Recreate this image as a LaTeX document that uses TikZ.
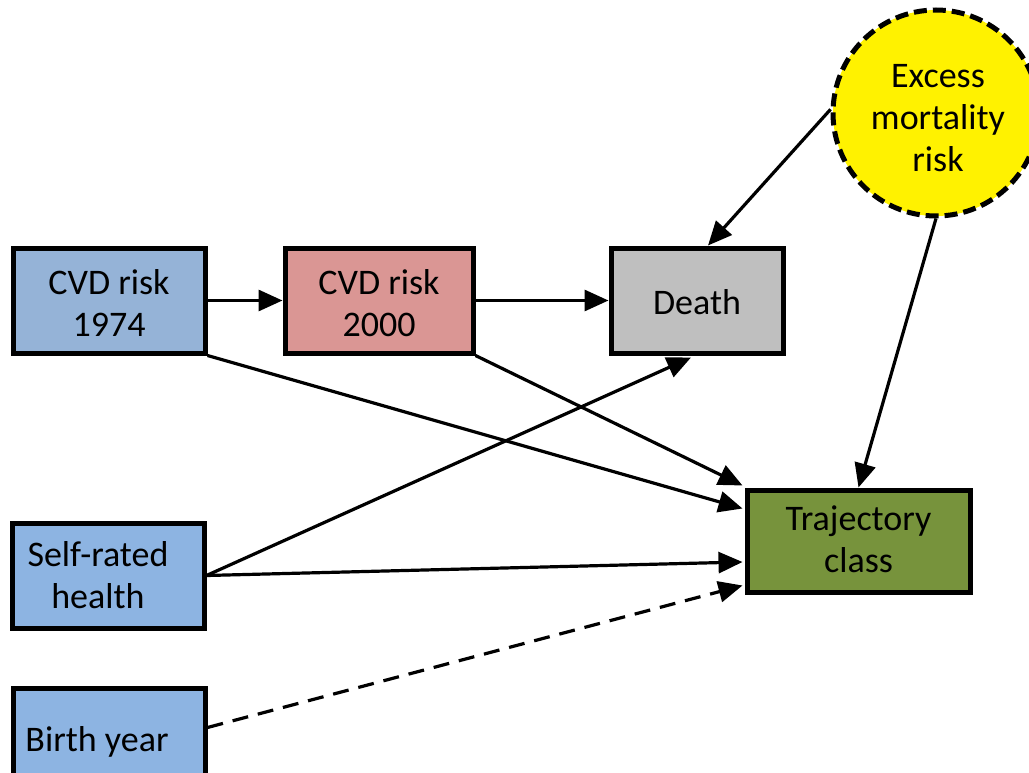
\documentclass[tikz,border=0pt]{standalone}
\usepackage{fontspec}
\setmainfont{Carlito}
\usetikzlibrary{arrows.meta,calc,shapes.geometric}
\definecolor{cblue}{HTML}{95B3D7}
\definecolor{sblue}{HTML}{8DB4E2}
\definecolor{cpink}{HTML}{DA9694}
\definecolor{cgray}{HTML}{BFBFBF}
\definecolor{colive}{HTML}{77933C}
\newcommand\mylines[2]{\raisebox{#1}[\height][\depth]{\begin{tabular}{@{}c@{}}#2\end{tabular}}}
\tikzset{
  box/.style={draw=black, line width=5pt, minimum width=#1, minimum height=105pt, inner sep=0pt,
    font=\fontsize{36}{42}\selectfont},
  arr/.style={line width=3.2pt, -{Triangle[length=24pt,width=21pt]}},
}
\begin{document}
\begin{tikzpicture}[x=1pt,y=-1pt]
\useasboundingbox (0,0) rectangle (1029,773);
\clip (0,0) rectangle (1029,773);
\node[box=192pt, fill=cblue] (c74) at (109,300.5) {\mylines{-7pt}{CVD risk\\1974}};
\node[box=188pt, fill=cpink] (c00) at (379,300.5) {\mylines{-7pt}{CVD risk\\2000}};
\node[box=172pt, fill=cgray] (death) at (697,300.5) {\mylines{-6pt}{Death}};
\node[box=223pt, minimum height=102pt, fill=colive] (traj) at (858.5,541) {\mylines{-2.5pt}{Trajectory\\class}};
\node[box=192pt, fill=sblue] (srh) at (108,575.5) {\mylines{-4pt}{Self-rated\hspace*{20pt}\\health\hspace*{20pt}}};
\node[box=192pt, minimum height=92pt, fill=sblue] (birth) at (109,734) {\mylines{-9pt}{Birth year\hspace*{24pt}}};
\node[ellipse, draw=black, line width=5pt, dash pattern=on 13pt off 6pt, fill=yellow,
  minimum width=206pt, minimum height=206pt, inner sep=0pt,
  font=\fontsize{36}{42}\selectfont] (exc) at (936,113) {\mylines{-8pt}{\hspace*{4pt}Excess\\\hspace*{4pt}mortality\\\hspace*{4pt}risk}};

\draw[arr] (c74.east) -- (c00.west);
\draw[arr] (c00.east) -- (death.west);
\draw[arr] (exc.178) -- ($(death.north)+(11,0)$);
\draw[arr] (exc.south) -- (traj.north);
\draw[arr] (c74.south east) -- ($(traj.north west)+(-2,21)$);
\draw[arr] (c00.south east) -- ($(traj.north west)+(-2,-2)$);
\draw[arr] (srh.east) -- ($(death.south)+(-6,2)$);
\draw[arr] (srh.east) -- ($(traj.west)+(-2,21)$);
\draw[arr, dash pattern=on 16pt off 10pt] ($(birth.north east)+(0,42)$) -- ($(traj.south west)+(-2,-9)$);
\end{tikzpicture}
\end{document}
